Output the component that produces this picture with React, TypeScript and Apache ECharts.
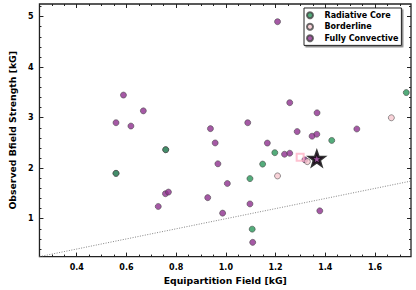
import React, { useEffect, useRef } from "react";
import * as echarts from "echarts";

const radiativeCore: number[][] = [
  [1.426, 2.549], [1.197, 2.307], [1.148, 2.081], [1.097, 1.794],
  [1.106, 0.793], [1.726, 3.497], [0.758, 2.366], [0.558, 1.898],
];
const borderline: number[][] = [
  [1.328, 2.13], [1.208, 1.847], [1.666, 2.998],
];
const fullyConvective: number[][] = [
  [1.208, 4.9], [0.588, 3.447], [0.668, 3.135], [0.558, 2.9], [0.618, 2.834],
  [0.938, 2.783], [0.957, 2.5], [1.257, 3.297], [1.367, 3.096], [1.088, 2.9],
  [1.287, 2.725], [1.347, 2.633], [1.366, 2.672], [1.167, 2.497], [1.236, 2.276],
  [1.257, 2.296], [1.318, 2.165], [1.097, 1.293], [1.378, 1.156], [1.108, 0.532],
  [1.006, 1.697], [0.987, 1.11], [0.968, 2.087], [0.757, 1.495], [0.769, 1.527],
  [0.927, 1.417], [0.728, 1.242], [1.527, 2.776], [0.758, 2.366], [0.558, 1.898],
];
const targetSquare: number[][] = [[1.299, 2.218]];
const targetStar: number[][] = [[1.366, 2.19]];
const equalityLine: number[][] = [[0.25, 0.25], [1.745, 1.745]];

const xMajorTicks = [0.4, 0.6, 0.8, 1.0, 1.2, 1.4, 1.6];
const xMinorTicks = [0.3, 0.35, 0.45, 0.5, 0.55, 0.65, 0.7, 0.75, 0.85, 0.9, 0.95,
  1.05, 1.1, 1.15, 1.25, 1.3, 1.35, 1.45, 1.5, 1.55, 1.65, 1.7];
const yMajorTicks = [1, 2, 3, 4, 5];
const yMinorTicks = [0.4, 0.6, 0.8, 1.2, 1.4, 1.6, 1.8, 2.2, 2.4, 2.6, 2.8,
  3.2, 3.4, 3.6, 3.8, 4.2, 4.4, 4.6, 4.8, 5.2];

const X_MIN = 0.25, X_MAX = 1.745, Y_MIN = 0.25, Y_MAX = 5.25;
const FONT = "DejaVu Sans";
const STAR = "path://M0,-10 L2.35,-3.24 L9.51,-3.09 L3.8,1.24 L5.88,8.09 L0,4 L-5.88,8.09 L-3.8,1.24 L-9.51,-3.09 L-2.35,-3.24 Z";

const PURPLE = "#8e2f8e";
const GREEN = "#2e9a5e";
const PINK = "#f8c8d0";

function xAxisDef(position: string, ticks: number[], len: number, labels: boolean, name?: string) {
  return {
    type: "value", position, min: X_MIN, max: X_MAX,
    axisLine: { show: false, onZero: false },
    splitLine: { show: false },
    axisTick: { show: true, inside: true, length: len, customValues: ticks, lineStyle: { color: "#222", width: 1 } },
    axisLabel: labels
      ? { show: true, customValues: ticks, margin: 6.5, fontFamily: FONT, fontWeight: "bold", fontSize: 8, color: "#000", formatter: (v: number) => v.toFixed(1) }
      : { show: false },
    name: name || "",
    nameLocation: "middle", nameGap: 16.5,
    nameTextStyle: { fontFamily: FONT, fontWeight: "bold", fontSize: 9.3, color: "#000" },
  };
}
function yAxisDef(position: string, ticks: number[], len: number, labels: boolean, name?: string) {
  return {
    type: "value", position, min: Y_MIN, max: Y_MAX,
    axisLine: { show: false, onZero: false },
    splitLine: { show: false },
    axisTick: { show: true, inside: true, length: len, customValues: ticks, lineStyle: { color: "#222", width: 1 } },
    axisLabel: labels
      ? { show: true, customValues: ticks, margin: 6, fontFamily: FONT, fontWeight: "bold", fontSize: 8, color: "#000", formatter: (v: number) => String(v) }
      : { show: false },
    name: name || "",
    nameLocation: "middle", nameGap: 13, nameRotate: 90,
    nameTextStyle: { fontFamily: FONT, fontWeight: "bold", fontSize: 9.3, color: "#000" },
  };
}

export default function App() {
  const ref = useRef<HTMLDivElement>(null);
  useEffect(() => {
    if (!ref.current) return;
    const chart = echarts.init(ref.current, null, { renderer: "svg" });
    const dotStyle = (c: string) => ({ color: c, borderColor: "#444", borderWidth: 0.7 });
    chart.setOption({
      animation: false,
      backgroundColor: "#fff",
      grid: { left: 27, right: 5, top: 4, bottom: 30, show: true, borderColor: "#222", borderWidth: 1.3, backgroundColor: "transparent" },
      xAxis: [
        xAxisDef("bottom", xMajorTicks, 4, true, "Equipartition Field [kG]"),
        xAxisDef("bottom", xMinorTicks, 2, false),
        xAxisDef("top", xMajorTicks, 4, false),
        xAxisDef("top", xMinorTicks, 2, false),
      ],
      yAxis: [
        yAxisDef("left", yMajorTicks, 4, true, "Observed Bfield Strength [kG]"),
        yAxisDef("left", yMinorTicks, 2, false),
        yAxisDef("right", yMajorTicks, 4, false),
        yAxisDef("right", yMinorTicks, 2, false),
      ],
      legend: {
        data: ["Radiative Core", "Borderline", "Fully Convective"],
        orient: "vertical", left: 304, top: 8,
        itemWidth: 19, itemHeight: 6, itemGap: 1.5,
        padding: [2.2, 3, 2.2, 2],
        borderColor: "#222", borderWidth: 1, backgroundColor: "#fff",
        shadowColor: "rgba(0,0,0,0.45)", shadowOffsetX: 1.5, shadowOffsetY: 1.5, shadowBlur: 0,
        textStyle: { fontFamily: FONT, fontWeight: "bold", fontSize: 8, color: "#000", lineHeight: 10, padding: 0 },
      },
      series: [
        {
          type: "line", data: equalityLine, xAxisIndex: 0, yAxisIndex: 0, symbol: "none",
          lineStyle: { color: "#777", width: 0.9, type: [1, 1.5] }, silent: true,
        },
        { name: "Fully Convective", type: "scatter", data: fullyConvective, symbolSize: 6, itemStyle: dotStyle(PURPLE), z: 3 },
        { name: "Borderline", type: "scatter", data: borderline, symbolSize: 6, itemStyle: dotStyle(PINK), z: 4 },
        { name: "Radiative Core", type: "scatter", data: radiativeCore, symbolSize: 6, itemStyle: { color: GREEN, opacity: 0.82, borderColor: "#444", borderWidth: 0.7 }, z: 5 },
        { name: "target", type: "scatter", data: targetSquare, symbol: "rect", symbolSize: 7, itemStyle: { color: "rgba(255,255,255,0)", borderColor: "#ffb3c6", borderWidth: 2 }, z: 6 },
        { name: "star", type: "scatter", data: targetStar, symbol: STAR, symbolKeepAspect: true, symbolSize: 14, itemStyle: { color: PURPLE, borderColor: "#000", borderWidth: 2.6 }, z: 7 },
      ],
    });
    return () => chart.dispose();
  }, []);
  return <div ref={ref} style={{ position: "fixed", left: 0, top: 0, width: 416, height: 290 }} />;
}
